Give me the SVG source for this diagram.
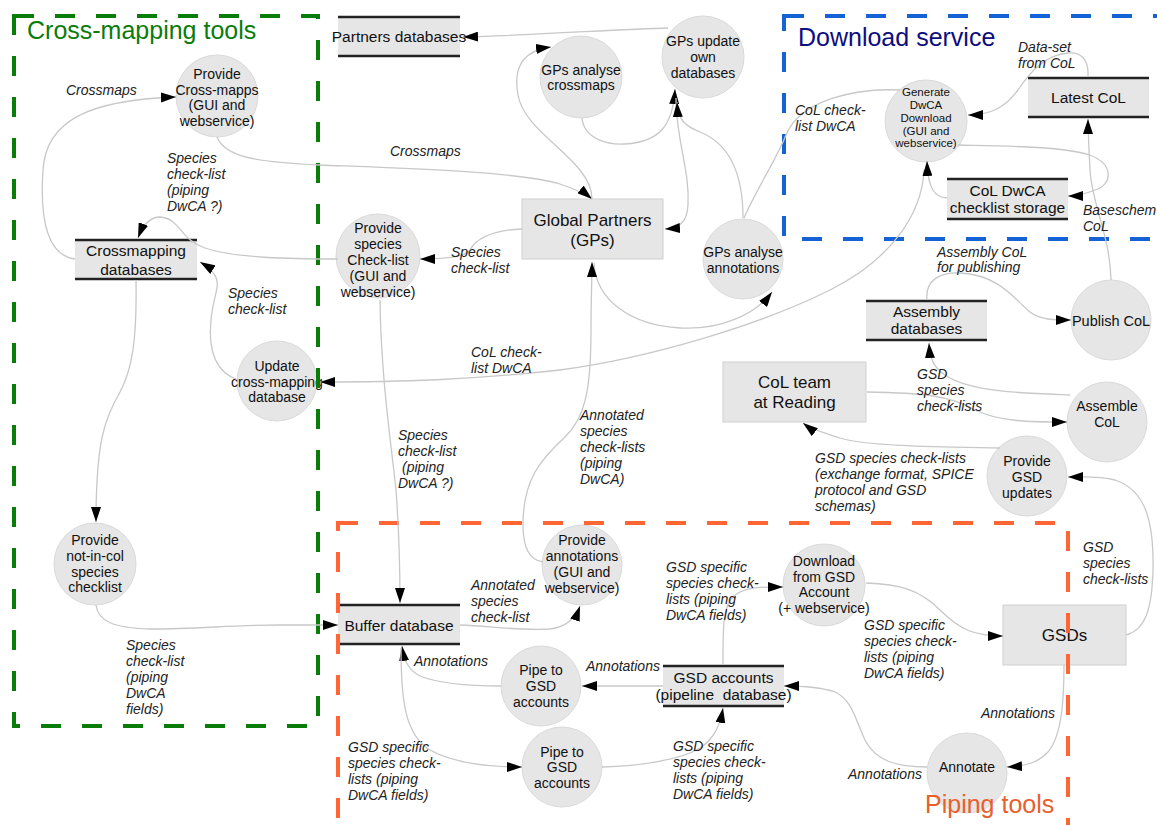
<svg xmlns="http://www.w3.org/2000/svg" width="1157" height="825" viewBox="0 0 1157 825">
<defs>
<style>
.circ{fill:#e6e6e6;stroke:#dadada;stroke-width:1}
.box{fill:#e6e6e6;stroke:#d0d0d0;stroke-width:1}
.store{fill:#e6e6e6}
.sl{stroke:#222;stroke-width:2.5}
.nt{font-family:"Liberation Sans",Arial,sans-serif;font-size:14px;fill:#111;text-anchor:middle}
.ns{font-size:11.5px}
.nl{font-size:15.5px}
.nx{font-size:17px}
.el{font-family:"Liberation Sans",Arial,sans-serif;font-size:14px;font-style:italic;fill:#222}
.edge{fill:none;stroke:#c8c8c8;stroke-width:1.3}
.arr{marker-end:url(#arrow)}
.grp{fill:none;stroke-width:4;stroke-dasharray:20 21}
.title{font-family:"Liberation Sans",Arial,sans-serif;font-size:25px}
</style>
<marker id="arrow" viewBox="0 0 15 10" refX="15" refY="5" markerWidth="15" markerHeight="10" markerUnits="userSpaceOnUse" orient="auto">
<path d="M0,0 L15,5 L0,10 z" fill="#000"/>
</marker>
</defs>
<rect width="1157" height="825" fill="#fff"/>

<g id="nodes">
<g id="partners-databases">
<rect class="store" x="338" y="16" width="122" height="41"/>
<line class="sl" x1="338" y1="17" x2="460" y2="17"/><line class="sl" x1="338" y1="56" x2="460" y2="56"/>
<text class="nt nl" x="399" y="42">Partners databases</text>
</g>
<g id="provide-crossmapps">
<circle class="circ" cx="217" cy="96" r="41"/>
<text class="nt" x="217" y="79">Provide</text><text class="nt" x="217" y="94.5">Cross-mapps</text><text class="nt" x="217" y="110">(GUI and</text><text class="nt" x="217" y="125.5">webservice)</text>
</g>
<g id="crossmapping-databases">
<rect class="store" x="75" y="239" width="122" height="41"/>
<line class="sl" x1="75" y1="240" x2="197" y2="240"/><line class="sl" x1="75" y1="279" x2="197" y2="279"/>
<text class="nt nl" x="136" y="256">Crossmapping</text><text class="nt nl" x="136" y="275">databases</text>
</g>
<g id="update-crossmapping">
<circle class="circ" cx="277" cy="381" r="40"/>
<text class="nt" x="277" y="371">Update</text><text class="nt" x="277" y="386.5">cross-mapping</text><text class="nt" x="277" y="402">database</text>
</g>
<g id="provide-notincol">
<circle class="circ" cx="95" cy="564" r="41"/>
<text class="nt" x="95" y="545">Provide</text><text class="nt" x="95" y="561">not-in-col</text><text class="nt" x="95" y="576.5">species</text><text class="nt" x="95" y="592">checklist</text>
</g>
<g id="provide-species-checklist">
<circle class="circ" cx="378" cy="256" r="42"/>
<text class="nt" x="378" y="233">Provide</text><text class="nt" x="378" y="249">species</text><text class="nt" x="378" y="265">Check-list</text><text class="nt" x="378" y="281">(GUI and</text><text class="nt" x="378" y="296.5">webservice)</text>
</g>
<g id="global-partners">
<rect class="box" x="522" y="199" width="141" height="60"/>
<text class="nt nx" x="592.5" y="226">Global Partners</text><text class="nt nx" x="592.5" y="246">(GPs)</text>
</g>
<g id="gps-analyse-crossmaps">
<circle class="circ" cx="581" cy="77" r="41"/>
<text class="nt" x="581" y="75">GPs analyse</text><text class="nt" x="581" y="90">crossmaps</text>
</g>
<g id="gps-update-own-databases">
<circle class="circ" cx="703" cy="57" r="41"/>
<text class="nt" x="703" y="46">GPs update</text><text class="nt" x="703" y="62">own</text><text class="nt" x="703" y="78">databases</text>
</g>
<g id="gps-analyse-annotations">
<circle class="circ" cx="743" cy="259" r="40"/>
<text class="nt" x="743" y="257">GPs analyse</text><text class="nt" x="743" y="272.5">annotations</text>
</g>
<g id="generate-dwca-download">
<circle class="circ" cx="926" cy="121" r="41"/>
<text class="nt ns" x="926" y="96">Generate</text><text class="nt ns" x="926" y="109">DwCA</text><text class="nt ns" x="926" y="122">Download</text><text class="nt ns" x="926" y="134.5">(GUI and</text><text class="nt ns" x="926" y="147">webservice)</text>
</g>
<g id="latest-col">
<rect class="store" x="1028" y="77" width="121" height="41"/>
<line class="sl" x1="1028" y1="78" x2="1149" y2="78"/><line class="sl" x1="1028" y1="117" x2="1149" y2="117"/>
<text class="nt nl" x="1088.5" y="103">Latest CoL</text>
</g>
<g id="col-dwca-checklist-storage">
<rect class="store" x="947" y="178" width="121" height="42"/>
<line class="sl" x1="947" y1="179" x2="1068" y2="179"/><line class="sl" x1="947" y1="219" x2="1068" y2="219"/>
<text class="nt nl" x="1007.5" y="196">CoL DwCA</text><text class="nt nl" x="1007.5" y="213">checklist storage</text>
</g>
<g id="assembly-databases">
<rect class="store" x="866" y="300" width="121" height="41"/>
<line class="sl" x1="866" y1="301" x2="987" y2="301"/><line class="sl" x1="866" y1="340" x2="987" y2="340"/>
<text class="nt nl" x="926.5" y="317">Assembly</text><text class="nt nl" x="926.5" y="334">databases</text>
</g>
<g id="publish-col">
<circle class="circ" cx="1111" cy="320" r="40"/>
<text class="nt" x="1111" y="326" style="font-size:14.5px">Publish CoL</text>
</g>
<g id="col-team-reading">
<rect class="box" x="723" y="362" width="143" height="60"/>
<text class="nt nx" x="794.5" y="388">CoL team</text><text class="nt nx" x="794.5" y="408">at Reading</text>
</g>
<g id="assemble-col">
<circle class="circ" cx="1107" cy="422" r="40"/>
<text class="nt" x="1107" y="411">Assemble</text><text class="nt" x="1107" y="427">CoL</text>
</g>
<g id="provide-gsd-updates">
<circle class="circ" cx="1027" cy="476" r="40"/>
<text class="nt" x="1027" y="466">Provide</text><text class="nt" x="1027" y="482">GSD</text><text class="nt" x="1027" y="497.5">updates</text>
</g>
<g id="buffer-database">
<rect class="store" x="338" y="604" width="122" height="41"/>
<line class="sl" x1="338" y1="605" x2="460" y2="605"/><line class="sl" x1="338" y1="644" x2="460" y2="644"/>
<text class="nt nl" x="399" y="631">Buffer database</text>
</g>
<g id="provide-annotations">
<circle class="circ" cx="582" cy="565" r="40"/>
<text class="nt" x="582" y="545">Provide</text><text class="nt" x="582" y="561">annotations</text><text class="nt" x="582" y="577">(GUI and</text><text class="nt" x="582" y="593">webservice)</text>
</g>
<g id="pipe-to-gsd-accounts-1">
<circle class="circ" cx="541" cy="686" r="40"/>
<text class="nt" x="541" y="675">Pipe to</text><text class="nt" x="541" y="691">GSD</text><text class="nt" x="541" y="707">accounts</text>
</g>
<g id="pipe-to-gsd-accounts-2">
<circle class="circ" cx="562" cy="767" r="40"/>
<text class="nt" x="562" y="756.5">Pipe to</text><text class="nt" x="562" y="772">GSD</text><text class="nt" x="562" y="788">accounts</text>
</g>
<g id="gsd-accounts">
<rect class="store" x="663" y="665" width="121" height="42"/>
<line class="sl" x1="663" y1="666" x2="784" y2="666"/><line class="sl" x1="663" y1="706" x2="784" y2="706"/>
<text class="nt nl" x="723.5" y="683">GSD accounts</text><text class="nt nl" x="723.5" y="700" xml:space="preserve">(pipeline  database)</text>
</g>
<g id="download-from-gsd">
<circle class="circ" cx="824" cy="585" r="41"/>
<text class="nt" x="824" y="566">Download</text><text class="nt" x="824" y="581.5">from GSD</text><text class="nt" x="824" y="597">Account</text><text class="nt" x="824" y="612.5">(+ webservice)</text>
</g>
<g id="gsds">
<rect class="box" x="1003" y="605" width="123" height="60"/>
<text class="nt nx" x="1064.5" y="641">GSDs</text>
</g>
<g id="annotate">
<circle class="circ" cx="967" cy="773" r="40"/>
<text class="nt" x="967" y="772">Annotate</text>
</g>
</g>

<g id="groups">
<g id="cross-mapping-tools">
<rect class="grp" x="14" y="16" width="304" height="710" stroke="#0a7c0a"/>
<text class="title" x="27" y="39" fill="#0a7c0a">Cross-mapping tools</text>
</g>
<g id="download-service">
<rect class="grp" x="784" y="16" width="420" height="223" stroke="#1462d6"/>
<text class="title" x="798" y="46" fill="#0d0d80">Download service</text>
</g>
<g id="piping-tools">
<rect class="grp" x="338" y="523" width="730" height="340" stroke="#ff6633"/>
<text class="title" x="925" y="813" fill="#e8602c">Piping tools</text>
</g>
</g>

<g id="connectors">
<path class="edge arr" d="M75,259 C45,255 40,215 43,170 C46,120 90,100 176,97"/>
<path class="edge arr" d="M217,137 C225,158 260,162 320,165 C420,169 520,172 560,184 C578,190 586,194 592,199"/>
<path class="edge arr" d="M592,199 C592,160 525,135 518,95 C512,62 528,50 551,47"/>
<path class="edge arr" d="M582,118 C584,140 610,145 625,144 C660,142 673,125 675,89"/>
<path class="edge arr" d="M668,28 C620,29 540,35 463,37"/>
<path class="edge arr" d="M676,98 C676,140 690,170 688,205 C687,222 680,228 665,229"/>
<path class="edge arr" d="M743,218 C743,160 720,140 700,132 C685,126 678,120 677,102"/>
<path class="edge" d="M900,90 C855,88 800,100 786,135 C776,160 756,190 744,218"/>
<path class="edge arr" d="M594,263 C596,300 630,325 680,328 C720,330 755,315 772,292"/>
<path class="edge arr" d="M543,562 C528,560 523,545 523,525 C523,480 540,460 565,437 C585,418 591,390 591,330 C591,300 592,280 592,262"/>
<path class="edge arr" d="M522,229 C490,230 475,240 470,250 C465,257 445,259 420,259"/>
<path class="edge arr" d="M338,259 C290,259 235,258 205,248 C180,240 180,218 160,217 C150,217 143,225 138,238"/>
<path class="edge arr" d="M136,281 C137,340 132,370 120,392 C105,418 96,440 96,522"/>
<path class="edge arr" d="M238,380 C215,372 208,350 211,320 C213,295 222,285 214,274 C210,268 205,265 200,262"/>
<path class="edge arr" d="M924,170 C922,215 890,260 830,290 C760,325 650,358 560,370 C470,380 400,382 320,382"/>
<path class="edge arr" d="M1088,77 C1089,58 1080,52 1068,53 C1045,55 1030,72 1018,90 C1005,108 990,115 968,115"/>
<path class="edge arr" d="M958,145 C1000,146 1060,146 1090,155 C1115,165 1112,185 1095,190 C1085,194 1078,196 1068,196"/>
<path class="edge arr" d="M947,198 C935,197 928,190 927,161"/>
<path class="edge arr" d="M1111,280 C1110,235 1092,205 1090,170 C1089,150 1088,130 1088,119"/>
<path class="edge arr" d="M927,300 C925,280 940,272 960,273 C1000,275 1015,300 1030,312 C1040,320 1055,320 1071,320"/>
<path class="edge arr" d="M1070,395 C1020,393 970,392 945,375 C933,367 930,358 929,343"/>
<path class="edge arr" d="M867,392 C920,393 950,395 975,410 C1000,422 1030,422 1067,422"/>
<path class="edge arr" d="M1000,448 C950,447 870,447 840,438 C825,433 812,430 803,423"/>
<path class="edge arr" d="M1126,635 C1145,630 1152,610 1153,570 C1154,520 1145,490 1115,480 C1100,476 1085,477 1068,477"/>
<path class="edge arr" d="M380,300 C381,380 392,450 396,490 C399,530 400,570 400,603"/>
<path class="edge arr" d="M96,605 C98,622 115,628 150,629 C200,629 230,625 280,625 C300,625 320,625 338,625"/>
<path class="edge arr" d="M460,625 C490,626 520,631 550,629 C565,627 575,620 580,606"/>
<path class="edge arr" d="M663,686 L582,686"/>
<path class="edge arr" d="M501,686 C470,686 440,684 420,676 C408,670 404,660 402,646"/>
<path class="edge arr" d="M401,648 C401,700 405,735 430,750 C455,764 490,767 522,767"/>
<path class="edge arr" d="M602,767 C640,766 680,760 700,748 C715,738 720,725 723,708"/>
<path class="edge arr" d="M723,665 C723,630 722,605 735,595 C748,586 765,587 783,587"/>
<path class="edge arr" d="M866,583 C900,584 920,590 940,610 C960,630 975,636 1003,636"/>
<path class="edge arr" d="M1064,665 C1064,700 1062,735 1048,752 C1038,763 1025,766 1007,767"/>
<path class="edge arr" d="M927,767 C895,767 875,760 865,740 C855,718 852,700 835,692 C820,687 800,686 784,686"/>
</g>

<g id="connector-labels" class="el">
<text x="66" y="95">Crossmaps</text>
<text x="390" y="156">Crossmaps</text>
<text x="167" y="163">Species</text><text x="167" y="179">check-list</text><text x="167" y="195">(piping</text><text x="167" y="211">DwCA ?)</text>
<text x="451" y="257">Species</text><text x="451" y="273">check-list</text>
<text x="228" y="298">Species</text><text x="228" y="314">check-list</text>
<text x="471" y="357">CoL check-</text><text x="471" y="373">list DwCA</text>
<text x="795" y="115">CoL check-</text><text x="795" y="131">list DwCA</text>
<text x="1018" y="52">Data-set</text><text x="1018" y="68">from CoL</text>
<text x="1083" y="215">Baseschem</text><text x="1083" y="231">CoL</text>
<text x="937" y="257">Assembly CoL</text><text x="937" y="272">for publishing</text>
<text x="917" y="379">GSD</text><text x="917" y="395">species</text><text x="917" y="411">check-lists</text>
<text x="815" y="463">GSD species check-lists</text><text x="815" y="479">(exchange format, SPICE</text><text x="815" y="495">protocol and GSD</text><text x="815" y="511">schemas)</text>
<text x="1083" y="552">GSD</text><text x="1083" y="568">species</text><text x="1083" y="584">check-lists</text>
<text x="398" y="440">Species</text><text x="398" y="456">check-list</text><text x="402" y="472">(piping</text><text x="398" y="488">DwCA ?)</text>
<text x="580" y="420">Annotated</text><text x="580" y="436">species</text><text x="580" y="452">check-lists</text><text x="580" y="468">(piping</text><text x="580" y="484">DwCA)</text>
<text x="126" y="650">Species</text><text x="126" y="666">check-list</text><text x="126" y="682">(piping</text><text x="126" y="698">DwCA</text><text x="126" y="714">fields)</text>
<text x="471" y="590">Annotated</text><text x="471" y="606">species</text><text x="471" y="622">check-list</text>
<text x="414" y="666">Annotations</text>
<text x="586" y="671">Annotations</text>
<text x="666" y="572">GSD specific</text><text x="666" y="588">species check-</text><text x="666" y="604">lists (piping</text><text x="666" y="620">DwCA fields)</text>
<text x="348" y="752">GSD specific</text><text x="348" y="768">species check-</text><text x="348" y="784">lists (piping</text><text x="348" y="800">DwCA fields)</text>
<text x="673" y="751">GSD specific</text><text x="673" y="767">species check-</text><text x="673" y="783">lists (piping</text><text x="673" y="799">DwCA fields)</text>
<text x="864" y="630">GSD specific</text><text x="864" y="646">species check-</text><text x="864" y="662">lists (piping</text><text x="864" y="678">DwCA fields)</text>
<text x="981" y="718">Annotations</text>
<text x="848" y="779">Annotations</text>
</g>
</svg>
